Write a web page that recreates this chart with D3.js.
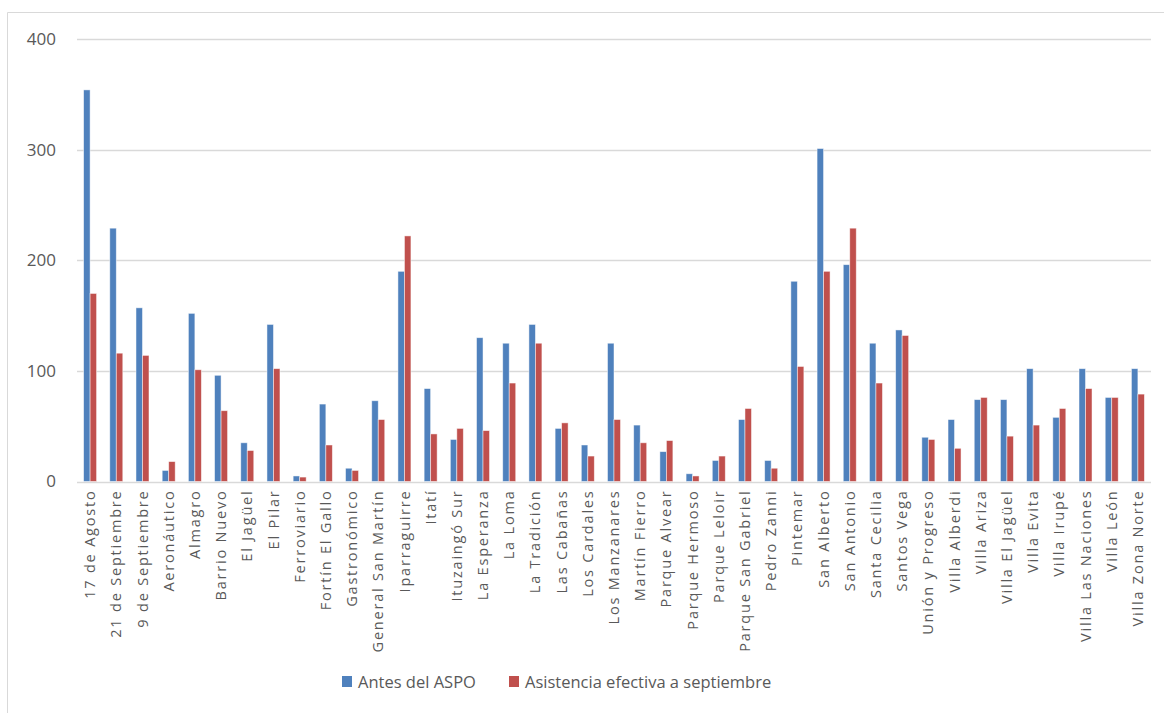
<!DOCTYPE html>
<html><head><meta charset="utf-8">
<script src="https://cdn.jsdelivr.net/npm/d3@7"></script>
<style>body{margin:0;background:#fff}svg{display:block}</style>
</head><body>
<svg id="chart" width="1164" height="713"></svg>
<script>
const categories = ["17 de Agosto","21 de Septiembre","9 de Septiembre","Aeronáutico","Almagro","Barrio Nuevo","El Jagüel","El Pilar","Ferroviario","Fortín El Gallo","Gastronómico","General San Martín","Iparraguirre","Itatí","Ituzaingó Sur","La Esperanza","La Loma","La Tradición","Las Cabañas","Los Cardales","Los Manzanares","Martín Fierro","Parque Alvear","Parque Hermoso","Parque Leloir","Parque San Gabriel","Pedro Zanni","Pintemar","San Alberto","San Antonio","Santa Cecilia","Santos Vega","Unión y Progreso","Villa Alberdi","Villa Ariza","Villa El Jagüel","Villa Evita","Villa Irupé","Villa Las Naciones","Villa León","Villa Zona Norte"];
const antesASPO = [354,229,157,10,152,96,35,142,5,70,12,73,190,84,38,130,125,142,48,33,125,51,27,7,19,56,19,181,301,196,125,137,40,56,74,74,102,58,102,76,102];
const asistencia = [170,116,114,18,101,64,28,102,4,33,10,56,222,43,48,46,89,125,53,23,56,35,37,5,23,66,12,104,190,229,89,132,38,30,76,41,51,66,84,76,79];
const seriesNames = ["Antes del ASPO","Asistencia efectiva a septiembre"];
const yTicks = [0,100,200,300,400];
const colors = ["#4f81bd","#c0504d"];

const svg = d3.select("#chart");
const mLeft = 77, mRight = 1151, mTop = 39, mBottom = 481.5;

// frame
svg.append("path").attr("d","M7.5,713 V12.5 H1164").attr("fill","none").attr("stroke","#d9d9d9").attr("stroke-width",1);

const x = d3.scaleBand().domain(categories).range([mLeft,mRight]).paddingInner(0).paddingOuter(0);
const y = d3.scaleLinear().domain([0,400]).range([mBottom,mTop]);
const xs = d3.scaleBand().domain([0,1]).range([0,13]).padding(0);
const offset = (x.bandwidth()-13)/2;

// gridlines
svg.append("g").selectAll("line").data(yTicks).join("line")
  .attr("x1",mLeft).attr("x2",mRight)
  .attr("y1",d=>Math.round(y(d))+0.5).attr("y2",d=>Math.round(y(d))+0.5)
  .attr("stroke","#d9d9d9").attr("stroke-width",1.3);

// y labels
const yAxis = d3.axisLeft(y).tickValues(yTicks).tickSize(0).tickPadding(0);
const gy = svg.append("g").attr("transform",`translate(56,0)`).call(yAxis);
gy.select(".domain").remove();
gy.selectAll("text").attr("font-family","'Open Sans', sans-serif").attr("font-size",17).attr("fill","#595959").attr("dy","0.32em");

// bars
const series = [antesASPO, asistencia];
series.forEach((vals,si)=>{
  svg.append("g").selectAll("rect").data(categories).join("rect")
    .attr("x",(d)=>x(d)+offset+xs(si))
    .attr("y",(d,i)=>y(vals[i]))
    .attr("width",xs.bandwidth())
    .attr("height",(d,i)=>mBottom-y(vals[i]))
    .attr("fill",colors[si])
    .attr("stroke","#ffffff").attr("stroke-opacity",0.6).attr("stroke-width",0.8);
});

// x labels
const gx = svg.append("g").attr("transform",`translate(0,${mBottom})`)
  .call(d3.axisBottom(x).tickSize(0).tickPadding(0));
gx.select(".domain").remove();
gx.selectAll("text")
  .attr("font-family","'Open Sans', sans-serif").attr("font-size",14.5).attr("fill","#595959")
  .attr("letter-spacing","1.8px")
  .attr("transform","rotate(-90)")
  .attr("text-anchor","end").attr("x",-8).attr("y",0).attr("dy","0.35em");

// legend
const legend = svg.append("g");
const legendItems = [{x:342,name:seriesNames[0],c:colors[0]},{x:509,name:seriesNames[1],c:colors[1]}];
legendItems.forEach(it=>{
  legend.append("rect").attr("x",it.x).attr("y",676).attr("width",10).attr("height",11).attr("fill",it.c);
  legend.append("text").attr("x",it.x+16).attr("y",682).attr("dy","0.35em")
    .attr("font-family","'Open Sans', sans-serif").attr("font-size",16.5).attr("fill","#595959").text(it.name);
});
</script>
</body></html>
